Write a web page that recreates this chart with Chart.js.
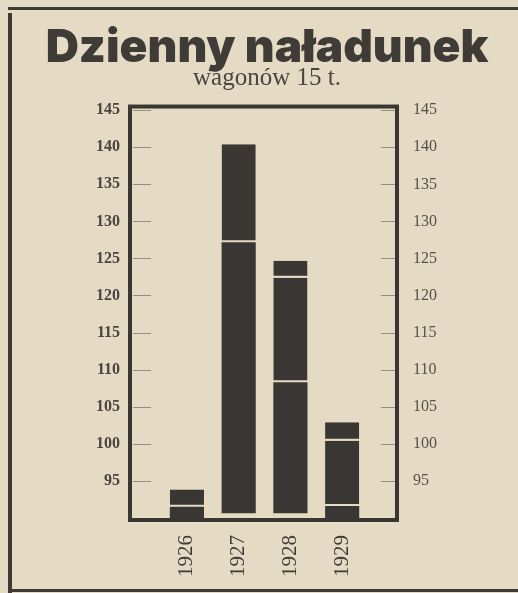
<!DOCTYPE html>
<html>
<head>
<meta charset="utf-8">
<script src="https://cdn.jsdelivr.net/npm/chart.js"></script>
<style>
  html, body { margin: 0; padding: 0; background: #e5dbc5; }
  #wrap { position: relative; width: 518px; height: 593px; overflow: hidden; }
  .rule { position: absolute; background: #3e3a36; }
  canvas { position: absolute; left: 0; top: 0; }
</style>
</head>
<body>
<div id="wrap">
  <div class="rule" style="left:8px; top:7px; width:510px; height:3px;"></div>
  <div class="rule" style="left:8px; top:13px; width:4px; height:580px;"></div>
  <div class="rule" style="left:8px; top:589px; width:510px; height:3px;"></div>
  <canvas id="chart" width="518" height="593"></canvas>
</div>
<script>
const ink = '#3a3633';
const paper = '#e5dbc5';

// years on the x axis
const years = [1926, 1927, 1928, 1929];
// segment edges of each bar, bottom to top
const seg1 = [[89.7, 91.5], [90.6, 127.2], [90.6, 108.3], [89.7, 91.6]];
const seg2 = [[91.5, 93.8], [127.2, 140.4], [108.3, 122.4], [91.6, 100.4]];
const seg3 = [null, null, [122.4, 124.7], [100.4, 102.9]];
const yTicks = [95, 100, 105, 110, 115, 120, 125, 130, 135, 140, 145];

function points(seg) {
    return years.map((year, i) => ({x: year, y: seg[i]}));
}

function fixWidth(w) {
    return (scale) => { scale.width = w; };
}

const frame = {
    id: 'frame',
    afterDatasetsDraw(chart) {
        const a = chart.chartArea;
        const c = chart.ctx;
        c.save();
        // short marks inside the box
        c.strokeStyle = '#958d80';
        c.lineWidth = 1.2;
        yTicks.forEach((v) => {
            const y = Math.round(chart.scales.y.getPixelForValue(v)) + 0.5;
            c.beginPath();
            c.moveTo(a.left + 3, y);
            c.lineTo(a.left + 21, y);
            c.moveTo(a.right - 16, y);
            c.lineTo(a.right, y);
            c.stroke();
        });
        c.strokeStyle = ink;
        c.lineWidth = 4;
        c.strokeRect(a.left, a.top, a.right - a.left, a.bottom - a.top);
        c.restore();
    }
};

new Chart(document.getElementById('chart'), {
    type: 'bar',
    data: {
        datasets: [
            {data: points(seg1), backgroundColor: ink, borderWidth: 0},
            {data: points(seg2), backgroundColor: ink, borderColor: paper,
                borderWidth: {top: 0, left: 0, right: 0, bottom: 2}, borderSkipped: false},
            {data: points(seg3), backgroundColor: ink, borderColor: paper,
                borderWidth: {top: 0, left: 0, right: 0, bottom: 2}, borderSkipped: false}
        ]
    },
    options: {
        responsive: false,
        animation: false,
        layout: {padding: {left: 16, right: 0, top: 0, bottom: 0}},
        datasets: {
            bar: {grouped: false, barPercentage: 0.66, categoryPercentage: 1}
        },
        plugins: {
            legend: {display: false},
            tooltip: {enabled: false},
            title: {
                display: true,
                text: 'Dzienny naładunek',
                color: '#3f3b37',
                font: {family: 'Inter', size: 46, weight: 900, lineHeight: 0.74},
                padding: {top: 31, bottom: 0}
            },
            subtitle: {
                display: true,
                text: 'wagonów 15 t.',
                color: '#4a4540',
                font: {family: 'Liberation Serif', size: 25, lineHeight: 0.9},
                padding: {top: 2, bottom: 17}
            }
        },
        scales: {
            x: {
                type: 'linear',
                offset: false,
                min: 1924.9,
                max: 1930.06,
                grid: {display: false, drawTicks: false},
                border: {display: false},
                afterBuildTicks: (scale) => { scale.ticks = years.map((v) => ({value: v})); },
                afterFit: (scale) => { scale.height = 73; },
                ticks: {
                    minRotation: 90,
                    maxRotation: 90,
                    padding: 15,
                    color: '#3f3b37',
                    font: {family: 'Liberation Serif', size: 21},
                    callback: (v) => String(v)
                }
            },
            y: {
                min: 89.7,
                max: 145.5,
                grid: {display: false, drawTicks: false},
                border: {display: false},
                afterBuildTicks: (scale) => { scale.ticks = yTicks.map((v) => ({value: v})); },
                afterFit: fixWidth(114),
                ticks: {
                    padding: 10,
                    color: '#4a4540',
                    font: {family: 'Liberation Serif', size: 16, weight: 'bold'}
                }
            },
            y2: {
                position: 'right',
                min: 89.7,
                max: 145.5,
                grid: {display: false, drawTicks: false},
                border: {display: false},
                afterBuildTicks: (scale) => { scale.ticks = yTicks.map((v) => ({value: v})); },
                afterFit: fixWidth(121),
                ticks: {
                    padding: 16,
                    color: '#55504a',
                    font: {family: 'Liberation Serif', size: 16}
                }
            }
        }
    },
    plugins: [frame]
});
</script>
</body>
</html>
